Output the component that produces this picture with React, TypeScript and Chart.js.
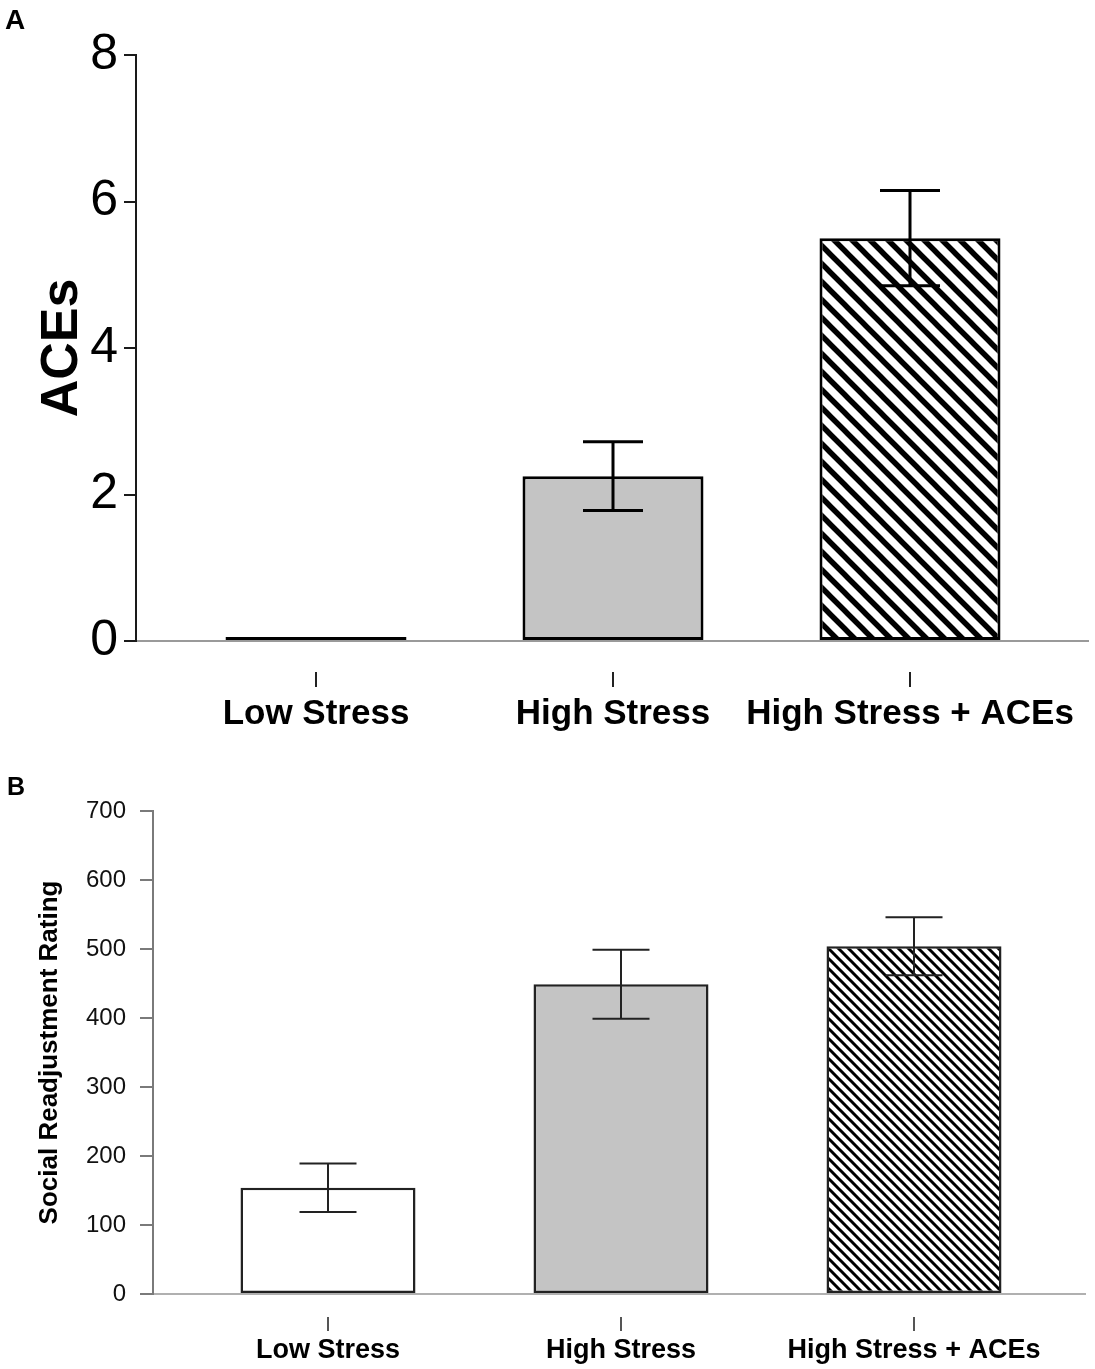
import React, { useEffect, useRef } from "react";
import { Chart, registerables } from "chart.js";

Chart.register(...registerables);

// ---------- data ----------
const categories = ["Low Stress", "High Stress", "High Stress + ACEs"];
const acesMeans = [0, 2.25, 5.5];
const acesErrors = [0, 0.47, 0.65];
const acesTicks = [0, 2, 4, 6, 8];
const srrMeans = [154, 449, 504];
const srrErrors = [35, 50, 42];
const srrTicks = [0, 100, 200, 300, 400, 500, 600, 700];

const FONT = "'Liberation Sans', Arial, Helvetica, sans-serif";

function makeHatch(size: number, lineWidth: number): CanvasPattern | string {
  const c = document.createElement("canvas");
  c.width = size;
  c.height = size;
  const g = c.getContext("2d");
  if (!g) return "#888";
  g.fillStyle = "#ffffff";
  g.fillRect(0, 0, size, size);
  g.strokeStyle = "#000000";
  g.lineWidth = lineWidth;
  g.beginPath();
  g.moveTo(-size, 0);
  g.lineTo(size, 2 * size);
  g.moveTo(0, 0);
  g.lineTo(size, size);
  g.moveTo(0, -size);
  g.lineTo(2 * size, size);
  g.moveTo(-size, -size);
  g.lineTo(size, size);
  g.stroke();
  const p = g.createPattern(c, "repeat");
  return p || "#888";
}

const errorBarPlugin = {
  id: "errorBars",
  afterDatasetsDraw(chart: any, _args: any, opts: any) {
    const { ctx } = chart;
    const meta = chart.getDatasetMeta(0);
    const y = chart.scales.y;
    ctx.save();
    ctx.strokeStyle = opts.color;
    ctx.lineWidth = opts.width;
    ctx.lineCap = "butt";
    meta.data.forEach((bar: any, i: number) => {
      const e = opts.errors[i];
      if (!e) return;
      const v = opts.means[i];
      const top = y.getPixelForValue(v + e);
      const bot = y.getPixelForValue(v - e);
      const cx = bar.x;
      ctx.beginPath();
      ctx.moveTo(cx, top);
      ctx.lineTo(cx, bot);
      ctx.moveTo(cx - opts.cap, top);
      ctx.lineTo(cx + opts.cap, top);
      ctx.moveTo(cx - opts.cap, bot);
      ctx.lineTo(cx + opts.cap, bot);
      ctx.stroke();
    });
    ctx.restore();
  },
};

const catAxisPlugin = {
  id: "catAxis",
  afterDraw(chart: any, _args: any, opts: any) {
    const { ctx } = chart;
    const x = chart.scales.x;
    const base = chart.chartArea.bottom;
    ctx.save();
    ctx.strokeStyle = opts.tickColor;
    ctx.lineWidth = opts.tickWidth;
    ctx.fillStyle = "#000";
    ctx.font = opts.font;
    ctx.textAlign = "center";
    ctx.textBaseline = "alphabetic";
    opts.labels.forEach((lab: string, i: number) => {
      const px = x.getPixelForValue(i + 1);
      ctx.beginPath();
      ctx.moveTo(px, base + opts.tickStart);
      ctx.lineTo(px, base + opts.tickEnd);
      ctx.stroke();
      ctx.fillText(lab, px, base + opts.labelBaseline);
    });
    ctx.restore();
  },
};

const panelLetterPlugin = {
  id: "panelLetter",
  afterDraw(chart: any, _args: any, opts: any) {
    const { ctx } = chart;
    ctx.save();
    ctx.fillStyle = "#000";
    ctx.font = opts.font;
    ctx.textAlign = "left";
    ctx.textBaseline = "alphabetic";
    ctx.fillText(opts.text, opts.x, opts.y);
    ctx.restore();
  },
};

function buildConfig(p: any): any {
  return {
    type: "bar",
    data: {
      datasets: [
        {
          data: p.means.map((v: number, i: number) => ({ x: i + 1, y: v })),
          backgroundColor: p.colors,
          borderColor: p.borderColor,
          borderWidth: p.borderWidth,
          borderSkipped: false,
          minBarLength: p.minBarLength,
          categoryPercentage: 1,
          barPercentage: p.barPct,
        },
      ],
    },
    plugins: [errorBarPlugin, catAxisPlugin, panelLetterPlugin],
    options: {
      responsive: false,
      animation: false,
      devicePixelRatio: 1,
      layout: { padding: p.padding },
      plugins: {
        legend: { display: false },
        tooltip: { enabled: false },
        errorBars: {
          means: p.means,
          errors: p.errors,
          color: p.errColor,
          width: p.errWidth,
          cap: p.cap,
        },
        catAxis: p.catAxis,
        panelLetter: p.letter,
      },
      scales: {
        x: {
          type: "linear",
          offset: false,
          min: p.xMin,
          max: p.xMax,
          afterBuildTicks: (s: any) => {
            s.ticks = p.means.map((_v: number, i: number) => ({ value: i + 1 }));
          },
          ticks: { display: false },
          grid: {
            display: true,
            offset: false,
            drawOnChartArea: false,
            drawTicks: false,
            color: "rgba(0,0,0,0)",
          },
          border: { display: true, color: p.xAxisColor, width: 2 },
          afterFit: (s: any) => {
            s.height = p.xHeight;
          },
        },
        y: {
          type: "linear",
          min: p.ticks[0],
          max: p.ticks[p.ticks.length - 1],
          afterBuildTicks: (s: any) => {
            s.ticks = p.ticks.map((v: number) => ({ value: v }));
          },
          afterFit: (s: any) => {
            s.width = p.yWidth;
          },
          ticks: {
            color: p.tickLabelColor,
            font: { family: FONT, size: p.tickFontSize },
            padding: p.tickPadding,
          },
          grid: {
            drawOnChartArea: false,
            drawTicks: true,
            tickLength: p.tickLength,
            tickColor: p.yAxisColor,
            tickWidth: 2,
            lineWidth: 2,
          },
          border: { display: true, color: p.yAxisColor, width: 2 },
          title: {
            display: true,
            text: p.yTitle,
            color: "#000",
            font: { family: FONT, size: p.titleFontSize, weight: "bold" },
            padding: { top: p.titlePad, bottom: 0 },
          },
        },
      },
    },
  };
}

export default function App() {
  const refA = useRef<HTMLCanvasElement | null>(null);
  const refB = useRef<HTMLCanvasElement | null>(null);

  useEffect(() => {
    if (!refA.current || !refB.current) return;
    const hatchA = makeHatch(18, 5.5);
    const hatchB = makeHatch(10, 3);

    const chartA = new Chart(
      refA.current,
      buildConfig({
        means: acesMeans,
        errors: acesErrors,
        ticks: acesTicks,
        colors: ["#ffffff", "#c4c4c4", hatchA],
        borderColor: "#000000",
        borderWidth: 3,
        minBarLength: 4,
        barPct: 181 / 297,
        xMin: 1 - 180 / 297,
        xMax: 3 + 178 / 297,
        padding: { top: 55, left: 0, right: 7, bottom: 0 },
        xHeight: 109,
        yWidth: 136,
        tickFontSize: 50,
        tickPadding: 6,
        tickLength: 12,
        tickLabelColor: "#000",
        yAxisColor: "#1a1a1a",
        xAxisColor: "#9a9a9a",
        yTitle: "ACEs",
        titleFontSize: 52,
        titlePad: 31,
        errColor: "#000",
        errWidth: 3,
        cap: 30,
        catAxis: {
          labels: categories,
          font: `bold 35px ${FONT}`,
          tickColor: "#222",
          tickWidth: 2,
          tickStart: 31,
          tickEnd: 46,
          labelBaseline: 83,
        },
        letter: { text: "A", x: 5, y: 29, font: `bold 28px ${FONT}` },
      })
    );

    const chartB = new Chart(
      refB.current,
      buildConfig({
        means: srrMeans,
        errors: srrErrors,
        ticks: srrTicks,
        colors: ["#ffffff", "#c4c4c4", hatchB],
        borderColor: "#222222",
        borderWidth: 2.5,
        minBarLength: 0,
        barPct: 175 / 293,
        xMin: 1 - 175 / 293,
        xMax: 3 + 171 / 293,
        padding: { top: 61, left: 0, right: 10, bottom: 0 },
        xHeight: 75,
        yWidth: 153,
        tickFontSize: 24,
        tickPadding: 14,
        tickLength: 13,
        tickLabelColor: "#111",
        yAxisColor: "#7a7a7a",
        xAxisColor: "#b0b0b0",
        yTitle: "Social Readjustment Rating",
        titleFontSize: 26,
        titlePad: 34,
        errColor: "#222",
        errWidth: 2,
        cap: 28.5,
        catAxis: {
          labels: categories,
          font: `bold 27px ${FONT}`,
          tickColor: "#555",
          tickWidth: 2,
          tickStart: 23,
          tickEnd: 37,
          labelBaseline: 64,
        },
        letter: { text: "B", x: 7, y: 45, font: `bold 25px ${FONT}` },
      })
    );

    return () => {
      chartA.destroy();
      chartB.destroy();
    };
  }, []);

  return (
    <div
      style={{
        position: "absolute",
        left: 0,
        top: 0,
        width: 1095,
        height: 1369,
        background: "#ffffff",
        overflow: "hidden",
      }}
    >
      <canvas
        ref={refA}
        width={1095}
        height={750}
        style={{ position: "absolute", left: 0, top: 0, width: 1095, height: 750 }}
      />
      <canvas
        ref={refB}
        width={1095}
        height={619}
        style={{ position: "absolute", left: 0, top: 750, width: 1095, height: 619 }}
      />
    </div>
  );
}
